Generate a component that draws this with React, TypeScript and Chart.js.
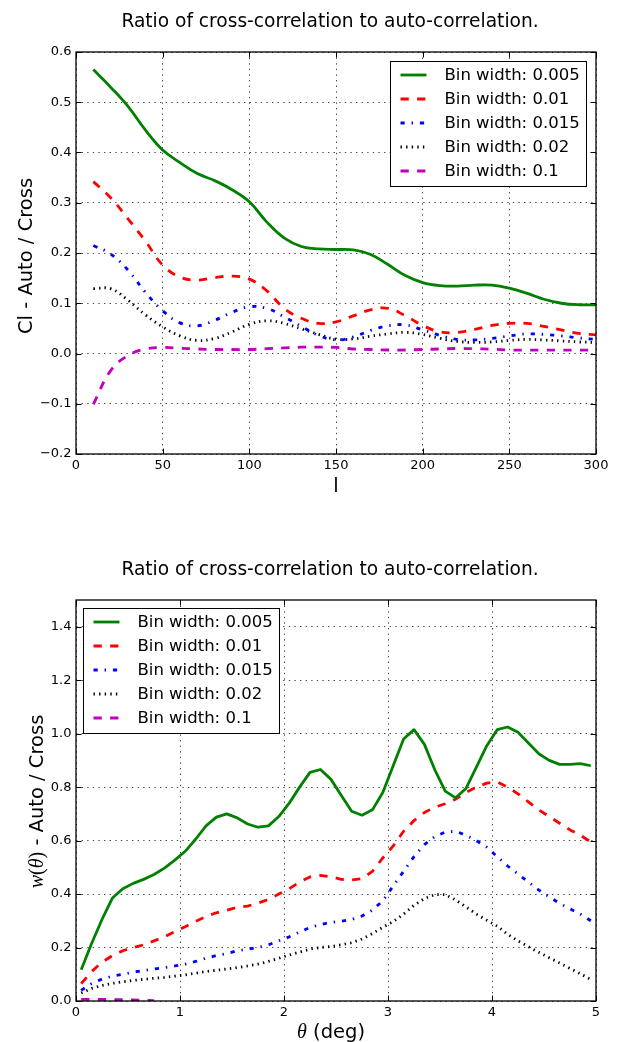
import React, { useEffect, useRef } from "react";
import { Chart, registerables } from "chart.js";

Chart.register(...registerables);

const SANS = "'DejaVu Sans', sans-serif";
const SERIF = "'Liberation Serif', 'DejaVu Serif', serif";

// ---------- Top chart data (multipole l) ----------
const ellValues = [10, 20, 30, 40, 50, 60, 70, 80, 90, 100, 110, 120, 130, 140, 150, 160, 170, 180, 190, 200, 210, 220, 230, 240, 250, 260, 270, 280, 290, 300];
const clBin0005 = [0.565, 0.53, 0.492, 0.445, 0.405, 0.38, 0.358, 0.344, 0.326, 0.302, 0.262, 0.23, 0.213, 0.208, 0.207, 0.206, 0.197, 0.177, 0.155, 0.141, 0.135, 0.134, 0.136, 0.136, 0.13, 0.12, 0.108, 0.1, 0.097, 0.097];
const clBin001 = [0.342, 0.31, 0.268, 0.224, 0.176, 0.152, 0.146, 0.151, 0.154, 0.148, 0.125, 0.09, 0.07, 0.06, 0.063, 0.075, 0.087, 0.09, 0.075, 0.056, 0.043, 0.042, 0.048, 0.056, 0.06, 0.06, 0.054, 0.047, 0.04, 0.037];
const clBin0015 = [0.215, 0.198, 0.166, 0.122, 0.085, 0.061, 0.055, 0.066, 0.082, 0.093, 0.09, 0.073, 0.054, 0.036, 0.027, 0.033, 0.046, 0.055, 0.057, 0.047, 0.036, 0.028, 0.027, 0.03, 0.035, 0.039, 0.038, 0.035, 0.031, 0.028];
const clBin002 = [0.129, 0.129, 0.106, 0.077, 0.053, 0.035, 0.026, 0.03, 0.043, 0.058, 0.065, 0.06, 0.049, 0.038, 0.0285, 0.029, 0.0345, 0.039, 0.042, 0.038, 0.03, 0.024, 0.022, 0.023, 0.026, 0.028, 0.027, 0.025, 0.023, 0.022];
const clBin01 = [-0.101, -0.034, -0.004, 0.009, 0.012, 0.0105, 0.009, 0.008, 0.008, 0.008, 0.0095, 0.011, 0.0125, 0.0126, 0.012, 0.009, 0.008, 0.007, 0.007, 0.008, 0.009, 0.01, 0.0095, 0.0086, 0.007, 0.0066, 0.0066, 0.0066, 0.0066, 0.0066];

// ---------- Bottom chart data (theta in deg) ----------
const thetaValues = [0.05, 0.15, 0.25, 0.35, 0.45, 0.55, 0.65, 0.75, 0.85, 0.95, 1.05, 1.15, 1.25, 1.35, 1.45, 1.55, 1.65, 1.75, 1.85, 1.95, 2.05, 2.15, 2.25, 2.35, 2.45, 2.55, 2.65, 2.75, 2.85, 2.95, 3.05, 3.15, 3.25, 3.35, 3.45, 3.55, 3.65, 3.75, 3.85, 3.95, 4.05, 4.15, 4.25, 4.35, 4.45, 4.55, 4.65, 4.75, 4.85, 4.95];
const wBin0005 = [0.117, 0.215, 0.305, 0.385, 0.42, 0.44, 0.455, 0.473, 0.497, 0.527, 0.56, 0.605, 0.655, 0.688, 0.7, 0.685, 0.662, 0.65, 0.655, 0.69, 0.74, 0.8, 0.855, 0.866, 0.83, 0.77, 0.71, 0.695, 0.715, 0.78, 0.88, 0.98, 1.015, 0.96, 0.865, 0.785, 0.76, 0.795, 0.875, 0.955, 1.015, 1.025, 1.005, 0.965, 0.925, 0.9, 0.885, 0.885, 0.888, 0.88];
const wBin001 = [0.065, 0.11, 0.145, 0.17, 0.188, 0.2, 0.21, 0.225, 0.24, 0.26, 0.278, 0.298, 0.316, 0.33, 0.34, 0.35, 0.355, 0.366, 0.38, 0.4, 0.42, 0.445, 0.464, 0.47, 0.465, 0.455, 0.453, 0.458, 0.485, 0.535, 0.58, 0.635, 0.675, 0.705, 0.725, 0.738, 0.755, 0.78, 0.8, 0.815, 0.82, 0.8, 0.775, 0.745, 0.715, 0.69, 0.665, 0.64, 0.62, 0.595];
const wBin0015 = [0.04, 0.065, 0.082, 0.093, 0.1, 0.108, 0.114, 0.12, 0.125, 0.131, 0.138, 0.148, 0.16, 0.17, 0.177, 0.188, 0.194, 0.2, 0.21, 0.225, 0.24, 0.258, 0.275, 0.286, 0.294, 0.298, 0.305, 0.318, 0.34, 0.375, 0.43, 0.485, 0.54, 0.585, 0.615, 0.632, 0.635, 0.62, 0.6, 0.575, 0.54, 0.505, 0.475, 0.445, 0.415, 0.39, 0.365, 0.345, 0.325, 0.3];
const wBin002 = [0.03, 0.047, 0.058, 0.066, 0.072, 0.077, 0.081, 0.085, 0.088, 0.093, 0.098, 0.104, 0.11, 0.115, 0.12, 0.125, 0.131, 0.138, 0.148, 0.16, 0.172, 0.183, 0.194, 0.2, 0.204, 0.21, 0.218, 0.232, 0.252, 0.276, 0.297, 0.325, 0.358, 0.383, 0.398, 0.398, 0.378, 0.352, 0.325, 0.302, 0.28, 0.25, 0.225, 0.203, 0.182, 0.162, 0.142, 0.122, 0.102, 0.08];
const wBin01 = [0.006, 0.006, 0.006, 0.005, 0.005, 0.004, 0.003, 0.001, null, null, null, null, null, null, null, null, null, null, null, null, null, null, null, null, null, null, null, null, null, null, null, null, null, null, null, null, null, null, null, null, null, null, null, null, null, null, null, null, null, null];

const seriesLabels = ["Bin width: 0.005", "Bin width: 0.01", "Bin width: 0.015", "Bin width: 0.02", "Bin width: 0.1"];
const seriesColors = ["#008000", "#ff0000", "#0000ff", "#000000", "#bf00bf"];
const seriesDashes = [[], [8.3, 8.3], [4.2, 6.9, 1.4, 6.9], [1.4, 4.2], [8.3, 8.3]];
const LINE_W = 2.8;
const GRID_COLOR = "rgba(0,0,0,0.7)";
const GRID_DASH = [1.4, 4.2];

const chartTitle = "Ratio of cross-correlation to auto-correlation.";

type Seg = { text: string; font: string };

function drawSegments(ctx: CanvasRenderingContext2D, segs: Seg[], px: number, py: number, vertical: boolean) {
  ctx.save();
  ctx.fillStyle = "#000";
  ctx.textAlign = "left";
  ctx.textBaseline = "alphabetic";
  const widths = segs.map((s) => {
    ctx.font = s.font;
    return ctx.measureText(s.text).width;
  });
  const total = widths.reduce((a, b) => a + b, 0);
  ctx.translate(px, py);
  if (vertical) ctx.rotate(-Math.PI / 2);
  let x = -total / 2;
  segs.forEach((s, i) => {
    ctx.font = s.font;
    ctx.fillText(s.text, x, 0);
    x += widths[i];
  });
  ctx.restore();
}

type DecorCfg = {
  id: string;
  titleX: number;
  titleBaseline: number;
  xTitle: Seg[];
  xTitleBaseline: number;
  xTitleCenter: number;
  yTitle: Seg[];
  yTitleBaselineX: number;
  yTitleCenter: number;
  legendSide: "left" | "right";
  legendDx: number;
  legendDy: number;
};

function makeDecor(cfg: DecorCfg) {
  return {
    id: cfg.id,
    afterDatasetsDraw(chart: any) {
      const ctx: CanvasRenderingContext2D = chart.ctx;
      const { left, right, top, bottom } = chart.chartArea;
      ctx.save();
      ctx.strokeStyle = "#000";
      ctx.lineWidth = 1;
      ctx.setLineDash([]);
      const xs = chart.scales.x;
      const ys = chart.scales.y;
      ctx.beginPath();
      xs.ticks.forEach((t: any) => {
        const p = Math.round(xs.getPixelForValue(t.value)) + 0.5;
        ctx.moveTo(p, bottom);
        ctx.lineTo(p, bottom - 5.5);
        ctx.moveTo(p, top);
        ctx.lineTo(p, top + 5.5);
      });
      ys.ticks.forEach((t: any) => {
        const p = Math.round(ys.getPixelForValue(t.value)) + 0.5;
        ctx.moveTo(left, p);
        ctx.lineTo(left + 5.5, p);
        ctx.moveTo(right, p);
        ctx.lineTo(right - 5.5, p);
      });
      ctx.stroke();
      ctx.lineWidth = 1.3;
      ctx.strokeRect(left, top, right - left, bottom - top);
      ctx.restore();
    },
    afterDraw(chart: any) {
      const ctx: CanvasRenderingContext2D = chart.ctx;
      const ca = chart.chartArea;
      ctx.save();
      ctx.fillStyle = "#000";
      ctx.font = `18.6px ${SANS}`;
      ctx.textAlign = "center";
      ctx.textBaseline = "alphabetic";
      ctx.fillText(chartTitle, cfg.titleX, cfg.titleBaseline);
      ctx.restore();
      drawSegments(ctx, cfg.xTitle, cfg.xTitleCenter, cfg.xTitleBaseline, false);
      drawSegments(ctx, cfg.yTitle, cfg.yTitleBaselineX, cfg.yTitleCenter, true);
      ctx.save();
      ctx.font = `16.5px ${SANS}`;
      const ds = chart.data.datasets;
      const maxW = Math.max(...ds.map((d: any) => ctx.measureText(d.label).width));
      const w = Math.round(54.5 + maxW + 6.5);
      const h = 125;
      const bx = Math.round(cfg.legendSide === "right" ? ca.right - cfg.legendDx - w : ca.left + cfg.legendDx);
      const by = Math.round(ca.top + cfg.legendDy);
      ctx.fillStyle = "#fff";
      ctx.fillRect(bx, by, w, h);
      ctx.strokeStyle = "#000";
      ctx.lineWidth = 1;
      ctx.strokeRect(bx + 0.5, by + 0.5, w, h);
      ds.forEach((d: any, i: number) => {
        const cy = by + 14 + i * 24;
        ctx.beginPath();
        ctx.setLineDash(d.borderDash || []);
        ctx.lineCap = "butt";
        ctx.lineWidth = d.borderWidth;
        ctx.strokeStyle = d.borderColor;
        ctx.moveTo(bx + 10.5, cy);
        ctx.lineTo(bx + 36.5, cy);
        ctx.stroke();
        ctx.setLineDash([]);
        ctx.fillStyle = "#000";
        ctx.textAlign = "left";
        ctx.textBaseline = "middle";
        ctx.fillText(d.label, bx + 54.5, cy + 1);
      });
      ctx.restore();
    },
  };
}

function makeDataset(xs: number[], ys: (number | null)[], i: number, tension: number) {
  return {
    label: seriesLabels[i],
    data: xs.map((x, k) => ({ x, y: ys[k] })),
    borderColor: seriesColors[i],
    backgroundColor: seriesColors[i],
    borderWidth: LINE_W,
    borderDash: seriesDashes[i],
    borderJoinStyle: "round",
    pointRadius: 0,
    pointHoverRadius: 0,
    fill: false,
    clip: 0,
    spanGaps: false,
    tension,
  };
}

const tickFont = { family: SANS, size: 13 };
const fmtY = (v: any) => Number(v).toFixed(1).replace("-", "\u2212");

function topConfig(): any {
  const series = [clBin0005, clBin001, clBin0015, clBin002, clBin01];
  return {
    type: "line",
    data: { datasets: series.map((s, i) => makeDataset(ellValues, s, i, 0.4)) },
    options: {
      animation: false,
      responsive: false,
      devicePixelRatio: 1,
      events: [],
      layout: { padding: { top: 52, right: 22, bottom: 0, left: 0 } },
      plugins: { legend: { display: false }, title: { display: false }, tooltip: { enabled: false } },
      scales: {
        x: {
          type: "linear",
          min: 0,
          max: 300,
          afterFit: (s: any) => { s.height = 56; },
          ticks: { stepSize: 50, padding: 4, color: "#000", font: tickFont, maxRotation: 0, autoSkip: false, callback: (v: any) => String(v) },
          grid: { color: GRID_COLOR, lineWidth: 1, drawTicks: false },
          border: { display: false, dash: GRID_DASH },
        },
        y: {
          type: "linear",
          min: -0.2,
          max: 0.6,
          afterFit: (s: any) => { s.width = 76; },
          ticks: { stepSize: 0.1, padding: 4.5, color: "#000", font: tickFont, callback: fmtY },
          grid: { color: GRID_COLOR, lineWidth: 1, drawTicks: false },
          border: { display: false, dash: GRID_DASH },
        },
      },
    },
    plugins: [
      makeDecor({
        id: "decorTop",
        titleX: 330,
        titleBaseline: 27,
        xTitle: [{ text: "l", font: `19.5px ${SANS}` }],
        xTitleCenter: 336,
        xTitleBaseline: 492,
        yTitle: [{ text: "Cl - Auto / Cross", font: `19.5px ${SANS}` }],
        yTitleBaselineX: 31.5,
        yTitleCenter: 256,
        legendSide: "right",
        legendDx: 10,
        legendDy: 9,
      }),
    ],
  };
}

function bottomConfig(): any {
  const series = [wBin0005, wBin001, wBin0015, wBin002, wBin01];
  return {
    type: "line",
    data: { datasets: series.map((s, i) => makeDataset(thetaValues, s, i, 0)) },
    options: {
      animation: false,
      responsive: false,
      devicePixelRatio: 1,
      events: [],
      layout: { padding: { top: 90, right: 22, bottom: 0, left: 0 } },
      plugins: { legend: { display: false }, title: { display: false }, tooltip: { enabled: false } },
      scales: {
        x: {
          type: "linear",
          min: 0,
          max: 5,
          afterFit: (s: any) => { s.height = 41; },
          ticks: { stepSize: 1, padding: 4, color: "#000", font: tickFont, maxRotation: 0, autoSkip: false, callback: (v: any) => String(v) },
          grid: { color: GRID_COLOR, lineWidth: 1, drawTicks: false },
          border: { display: false, dash: GRID_DASH },
        },
        y: {
          type: "linear",
          min: 0,
          max: 1.5,
          afterFit: (s: any) => { s.width = 76; },
          ticks: { stepSize: 0.2, includeBounds: false, padding: 4.5, color: "#000", font: tickFont, callback: fmtY },
          grid: { color: GRID_COLOR, lineWidth: 1, drawTicks: false },
          border: { display: false, dash: GRID_DASH },
        },
      },
    },
    plugins: [
      makeDecor({
        id: "decorBottom",
        titleX: 330,
        titleBaseline: 64.5,
        xTitle: [
          { text: "\u03b8", font: `italic 20px ${SERIF}` },
          { text: " (deg)", font: `19.5px ${SANS}` },
        ],
        xTitleCenter: 331,
        xTitleBaseline: 527.5,
        yTitle: [
          { text: "w", font: `italic 20px ${SERIF}` },
          { text: "(", font: `20px ${SERIF}` },
          { text: "\u03b8", font: `italic 20px ${SERIF}` },
          { text: ")", font: `20px ${SERIF}` },
          { text: " - Auto / Cross", font: `19.5px ${SANS}` },
        ],
        yTitleBaselineX: 42.5,
        yTitleCenter: 291.5,
        legendSide: "left",
        legendDx: 7,
        legendDy: 8,
      }),
    ],
  };
}

function ChartCanvas({ top, height, build }: { top: number; height: number; build: () => any }) {
  const ref = useRef<HTMLCanvasElement | null>(null);
  useEffect(() => {
    if (!ref.current) return;
    const chart = new Chart(ref.current, build());
    return () => chart.destroy();
  }, []);
  return (
    <div style={{ position: "absolute", left: 0, top, width: 618, height }}>
      <canvas ref={ref} width={618} height={height} style={{ display: "block", width: 618, height }} />
    </div>
  );
}

export default function App() {
  return (
    <div style={{ position: "absolute", left: 0, top: 0, width: 618, height: 1042, background: "#fff", overflow: "hidden" }}>
      <ChartCanvas top={0} height={510} build={topConfig} />
      <ChartCanvas top={510} height={532} build={bottomConfig} />
    </div>
  );
}
